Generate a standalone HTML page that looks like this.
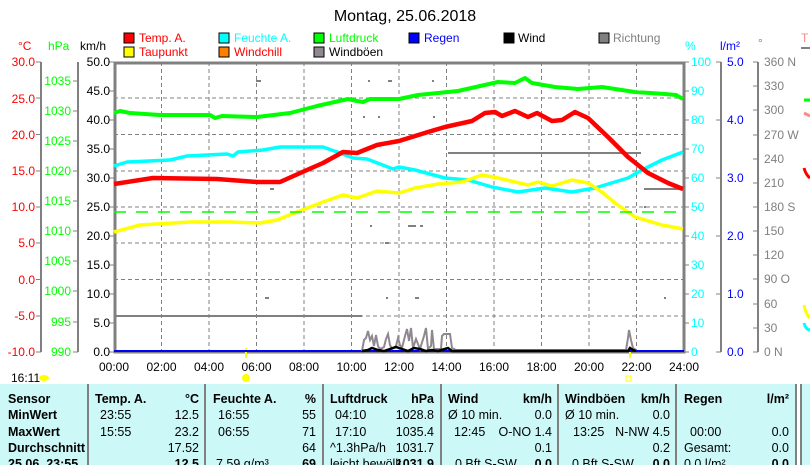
<!DOCTYPE html>
<html><head><meta charset="utf-8"><style>
body{margin:0;width:810px;height:465px;overflow:hidden;background:#fff;font-family:"Liberation Sans",sans-serif}
svg{position:absolute;left:0;top:0}
</style></head><body>
<svg width="810" height="465" viewBox="0 0 810 465" font-family="Liberation Sans, sans-serif">
<text x="405" y="21" font-size="16" text-anchor="middle" fill="#000">Montag, 25.06.2018</text>
<g font-size="12">
<rect x="124" y="33" width="10" height="10" fill="#f00" stroke="#000"/><text x="139" y="42" fill="#f00">Temp. A.</text>
<rect x="219" y="33" width="10" height="10" fill="#0ff" stroke="#000"/><text x="234" y="42" fill="#0ff">Feuchte A.</text>
<rect x="314" y="33" width="10" height="10" fill="#0f0" stroke="#000"/><text x="329" y="42" fill="#0f0">Luftdruck</text>
<rect x="409" y="33" width="10" height="10" fill="#00f" stroke="#000"/><text x="424" y="42" fill="#00f">Regen</text>
<rect x="504" y="33" width="10" height="10" fill="#000" stroke="#000"/><text x="518" y="42" fill="#000">Wind</text>
<rect x="599" y="33" width="10" height="10" fill="#808080" stroke="#000"/><text x="613" y="42" fill="#808080">Richtung</text>
<rect x="124" y="47" width="10" height="10" fill="#ff0" stroke="#000"/><text x="139" y="56" fill="#f00">Taupunkt</text>
<rect x="219" y="47" width="10" height="10" fill="#ff8000" stroke="#000"/><text x="234" y="56" fill="#f00">Windchill</text>
<rect x="314" y="47" width="10" height="10" fill="#908890" stroke="#000"/><text x="329" y="56" fill="#000">Windböen</text>
<text x="801" y="42" fill="#f88">T</text>
<line x1="801" y1="48" x2="810" y2="48" stroke="#808080" stroke-width="2"/>
</g>
<g font-size="12">
<text x="18" y="50" fill="#f00">°C</text>
<text x="48" y="50" fill="#0f0">hPa</text>
<text x="80" y="50" fill="#000">km/h</text>
<text x="685" y="50" fill="#0ff">%</text>
<text x="720" y="50" fill="#00f">l/m²</text>
<text x="758" y="47" fill="#808080">°</text>
</g>
<g stroke="#808080" stroke-width="2" fill="none">
<line x1="41" y1="62" x2="41" y2="352"/>
<line x1="78" y1="62" x2="78" y2="352"/>
<line x1="721" y1="62" x2="721" y2="352"/>
<line x1="758" y1="62" x2="758" y2="352"/>
</g>
<g font-size="12" fill="#f00" text-anchor="end">
<text x="35" y="66">30.0</text><text x="35" y="103">25.0</text><text x="35" y="139">20.0</text><text x="35" y="175">15.0</text><text x="35" y="211">10.0</text><text x="35" y="247">5.0</text><text x="35" y="284">0.0</text><text x="35" y="320">-5.0</text><text x="35" y="356">-10.0</text>
</g>
<g stroke="#808080" stroke-width="1">
<path d="M36 62h5M36 98h5M36 134.5h5M36 171h5M36 207h5M36 243h5M36 279.5h5M36 316h5M36 352h5"/>
<path d="M73 81h5M73 111h5M73 141h5M73 171h5M73 201h5M73 231h5M73 261h5M73 291h5M73 322h5M73 352h5"/>
<path d="M109 62h5M109 91h5M109 120h5M109 149h5M109 178h5M109 207h5M109 236h5M109 265h5M109 294h5M109 323h5M109 352h5"/>
<path d="M684 62h5M684 91h5M684 120h5M684 149h5M684 178h5M684 207h5M684 236h5M684 265h5M684 294h5M684 323h5M684 352h5"/>
<path d="M716 62h5M716 120h5M716 178h5M716 236h5M716 294h5M716 352h5"/>
<path d="M753 62h5M753 86h5M753 110h5M753 135h5M753 159h5M753 183h5M753 207h5M753 231h5M753 255h5M753 279h5M753 304h5M753 328h5M753 352h5"/>
</g>
<g font-size="12" fill="#0f0" text-anchor="end">
<text x="71" y="85">1035</text><text x="71" y="115">1030</text><text x="71" y="145">1025</text><text x="71" y="175">1020</text><text x="71" y="205">1015</text><text x="71" y="235">1010</text><text x="71" y="265">1005</text><text x="71" y="295">1000</text><text x="71" y="326">995</text><text x="71" y="356">990</text>
</g>
<g font-size="12" fill="#000" text-anchor="end">
<text x="110" y="66">50.0</text><text x="110" y="95">45.0</text><text x="110" y="124">40.0</text><text x="110" y="153">35.0</text><text x="110" y="182">30.0</text><text x="110" y="211">25.0</text><text x="110" y="240">20.0</text><text x="110" y="269">15.0</text><text x="110" y="298">10.0</text><text x="110" y="327">5.0</text><text x="110" y="356">0.0</text>
</g>
<g font-size="12" fill="#0ff">
<text x="691" y="66">100</text><text x="691" y="95">90</text><text x="691" y="124">80</text><text x="691" y="153">70</text><text x="691" y="182">60</text><text x="691" y="211">50</text><text x="691" y="240">40</text><text x="691" y="269">30</text><text x="691" y="298">20</text><text x="691" y="327">10</text><text x="691" y="356">0</text>
</g>
<g font-size="12" fill="#00f">
<text x="727" y="66">5.0</text><text x="727" y="124">4.0</text><text x="727" y="182">3.0</text><text x="727" y="240">2.0</text><text x="727" y="298">1.0</text><text x="727" y="356">0.0</text>
</g>
<g font-size="12" fill="#808080">
<text x="764" y="66">360 N</text><text x="764" y="90">330</text><text x="764" y="114">300</text><text x="764" y="139">270 W</text><text x="764" y="163">240</text><text x="764" y="187">210</text><text x="764" y="211">180 S</text><text x="764" y="235">150</text><text x="764" y="259">120</text><text x="764" y="283">90  O</text><text x="764" y="308">60</text><text x="764" y="332">30</text><text x="764" y="356">0   N</text>
</g>
<g stroke="#808080" stroke-width="1" stroke-dasharray="4,3">
<path d="M161.5 62V352M209 62V352M256.5 62V352M304 62V352M351.5 62V352M399 62V352M446.5 62V352M494 62V352M541.5 62V352M589 62V352M636.5 62V352"/>
<path d="M114 98H684M114 134.5H684M114 171H684M114 207H684M114 243H684M114 279.5H684M114 316H684"/>
</g>
<rect x="115" y="63" width="569" height="289" fill="none" stroke="#808080" stroke-width="3"/>
<line x1="114" y1="352" x2="684" y2="352" stroke="#808080" stroke-width="1"/>
<g font-size="12" fill="#000" text-anchor="middle">
<text x="114" y="371">00:00</text><text x="161.5" y="371">02:00</text><text x="209" y="371">04:00</text><text x="256.5" y="371">06:00</text><text x="304" y="371">08:00</text><text x="351.5" y="371">10:00</text><text x="399" y="371">12:00</text><text x="446.5" y="371">14:00</text><text x="494" y="371">16:00</text><text x="541.5" y="371">18:00</text><text x="589" y="371">20:00</text><text x="636.5" y="371">22:00</text><text x="684" y="371">24:00</text>
</g>
<text x="11" y="382" font-size="12">16:11</text>
<ellipse cx="44" cy="378" rx="5" ry="3" fill="#ff0"/>
<circle cx="246" cy="378" r="4" fill="#ff0"/>
<rect x="626" y="376" width="5" height="5" fill="none" stroke="#ff0"/>
<line x1="246" y1="348" x2="246" y2="358" stroke="#ff0" stroke-width="2"/>
<line x1="630" y1="348" x2="630" y2="358" stroke="#ff0" stroke-width="2"/>
<g stroke="#808080" stroke-width="2">
<line x1="114" y1="316" x2="362" y2="316"/>
<line x1="448" y1="153" x2="641" y2="153"/>
<line x1="644" y1="189" x2="683" y2="189"/>
</g>
<g fill="#808080">
<rect x="256" y="80" width="5" height="2"/><rect x="368" y="80" width="2" height="2"/><rect x="388" y="80" width="4" height="2"/><rect x="363" y="116" width="2" height="2"/><rect x="378" y="116" width="2" height="2"/><rect x="270" y="188" width="4" height="2"/><rect x="370" y="225" width="2" height="2"/><rect x="385" y="242" width="4" height="2"/><rect x="265" y="297" width="4" height="2"/><rect x="386" y="297" width="2" height="2"/><rect x="432" y="80" width="2" height="2"/><rect x="433" y="116" width="2" height="2"/><rect x="408" y="225" width="8" height="2"/><rect x="420" y="225" width="3" height="2"/><rect x="415" y="297" width="4" height="2"/><rect x="664" y="297" width="2" height="2"/><rect x="644" y="206" width="2" height="2"/>
</g>
<g fill="none" stroke-width="4" stroke-linejoin="round">
<polyline stroke="#0f0" points="114,113 120,111 130,113 160,115 210,115 215,118 222,116 257,117 290,113 317,106 348,99 357,101 363,102 370,99 399,99 418,95 458,91 498,82 515,83 525,78 532,83 555,87 578,89 602,87 635,92 665,94 676,95 683,99"/>
<polyline stroke="#0ff" stroke-width="3.5" points="114,166 127,162 170,160 187,156 227,154 233,156 238,152 263,150 280,147 323,147 340,153 353,158 367,159 380,164 393,169 399,167 415,170 445,178 468,180 492,187 518,192 545,188 572,192 595,188 628,178 642,170 662,160 683,152"/>
<polyline stroke="#ff0" stroke-width="3.5" points="114,232 140,225 190,222 230,222 260,223 277,220 297,212 323,202 343,195 357,198 377,191 399,193 415,188 438,184 462,182 482,175 498,178 528,185 538,182 552,186 572,180 588,183 602,192 615,203 635,217 662,225 683,229"/>
<polyline stroke="#f00" stroke-width="4.5" points="114,184 153,178 217,179 257,182 280,182 307,170 323,163 343,152 357,153 377,145 399,141 428,132 445,127 472,121 485,113 495,112 502,116 515,111 528,117 537,113 552,121 562,120 575,112 588,118 608,137 628,157 648,173 668,183 683,189"/>
</g>
<line x1="114" y1="212" x2="684" y2="212" stroke="#0f0" stroke-width="1.5" stroke-dasharray="12,10"/>
<line x1="114" y1="351" x2="684" y2="351" stroke="#00f" stroke-width="2"/>
<polyline fill="none" stroke="#908890" stroke-width="2" points="362,351 364,340 366,338 368,331 370,340 372,336 374,346 376,335 378,346 380,349 384,347 386,339 388,334 390,345 392,349 396,346 398,338 400,345 402,348 405,336 407,329 409,341 411,328 413,348 416,339 420,349 424,336 426,328 428,349 431,346 432,330 434,349 441,349 442,336 444,334 450,334 452,348 456,350 626,350 628,338 629,330 631,340 633,348 636,350"/>
<polyline fill="none" stroke="#000" stroke-width="2.5" points="362,351 368,350 372,348 378,350 384,351 390,349 396,347 402,349 408,351 414,348 420,349 426,351 432,350 438,351 448,348 452,351 628,351 630,348 633,350 636,351"/>
<g stroke-width="3">
<line x1="804" y1="100" x2="810" y2="100" stroke="#0f0"/>
<line x1="804" y1="113" x2="810" y2="116" stroke="#f88"/>
<path d="M804 168 Q806 175 810 178" stroke="#f00" fill="none"/>
<path d="M804 305 Q806 315 810 318" stroke="#ff0" fill="none"/>
<path d="M804 323 Q806 330 810 330" stroke="#0ff" fill="none"/>
</g>
<rect x="0" y="384" width="796" height="81" fill="#ccf8f8"/>
<rect x="800" y="384" width="10" height="81" fill="#ccf8f8"/>
<g stroke="#808080" stroke-width="2">
<line x1="88" y1="384" x2="88" y2="465"/><line x1="205" y1="384" x2="205" y2="465"/><line x1="323" y1="384" x2="323" y2="465"/><line x1="441" y1="384" x2="441" y2="465"/><line x1="558" y1="384" x2="558" y2="465"/><line x1="676" y1="384" x2="676" y2="465"/><line x1="796" y1="384" x2="796" y2="465"/><line x1="801" y1="384" x2="801" y2="465"/>
</g>
<g font-size="12.5" fill="#000">
<g font-weight="bold">
<text x="8" y="403">Sensor</text><text x="8" y="419">MinWert</text><text x="8" y="436">MaxWert</text><text x="8" y="452">Durchschnitt</text><text x="8" y="468">25.06. 23:55</text>
<text x="95" y="403">Temp. A.</text><text x="213" y="403">Feuchte A.</text><text x="330" y="403">Luftdruck</text><text x="448" y="403">Wind</text><text x="565" y="403">Windböen</text><text x="684" y="403">Regen</text>
</g>
<g text-anchor="end" font-weight="bold">
<text x="199" y="403">°C</text><text x="316" y="403">%</text><text x="434" y="403">hPa</text><text x="552" y="403">km/h</text><text x="670" y="403">km/h</text><text x="789" y="403">l/m²</text>
<text x="199" y="468">12.5</text><text x="316" y="468">69</text><text x="434" y="468">1031.9</text><text x="552" y="468">0.0</text><text x="670" y="468">0.0</text><text x="789" y="468">0.0</text>
</g>
<text x="100" y="419">23:55</text><text x="100" y="436">15:55</text>
<text x="218" y="419">16:55</text><text x="218" y="436">06:55</text><text x="216" y="468">7.59 g/m³</text>
<text x="335" y="419">04:10</text><text x="335" y="436">17:10</text><text x="330" y="452">^1.3hPa/h</text><text x="330" y="468">leicht bewölk</text>
<text x="448" y="419">Ø 10 min.</text><text x="454" y="436">12:45</text><text x="455" y="468">0 Bft S-SW</text>
<text x="565" y="419">Ø 10 min.</text><text x="573" y="436">13:25</text><text x="572" y="468">0 Bft S-SW</text>
<text x="690" y="436">00:00</text><text x="684" y="452">Gesamt:</text><text x="684" y="468">0.0 l/m²</text>
<g text-anchor="end">
<text x="199" y="419">12.5</text><text x="199" y="436">23.2</text><text x="199" y="452">17.52</text>
<text x="316" y="419">55</text><text x="316" y="436">71</text><text x="316" y="452">64</text>
<text x="434" y="419">1028.8</text><text x="434" y="436">1035.4</text><text x="434" y="452">1031.7</text>
<text x="552" y="419">0.0</text><text x="552" y="436">O-NO 1.4</text><text x="552" y="452">0.1</text>
<text x="670" y="419">0.0</text><text x="670" y="436">N-NW 4.5</text><text x="670" y="452">0.2</text>
<text x="789" y="436">0.0</text><text x="789" y="452">0.0</text>
</g>
</g>
</svg>
</body></html>
